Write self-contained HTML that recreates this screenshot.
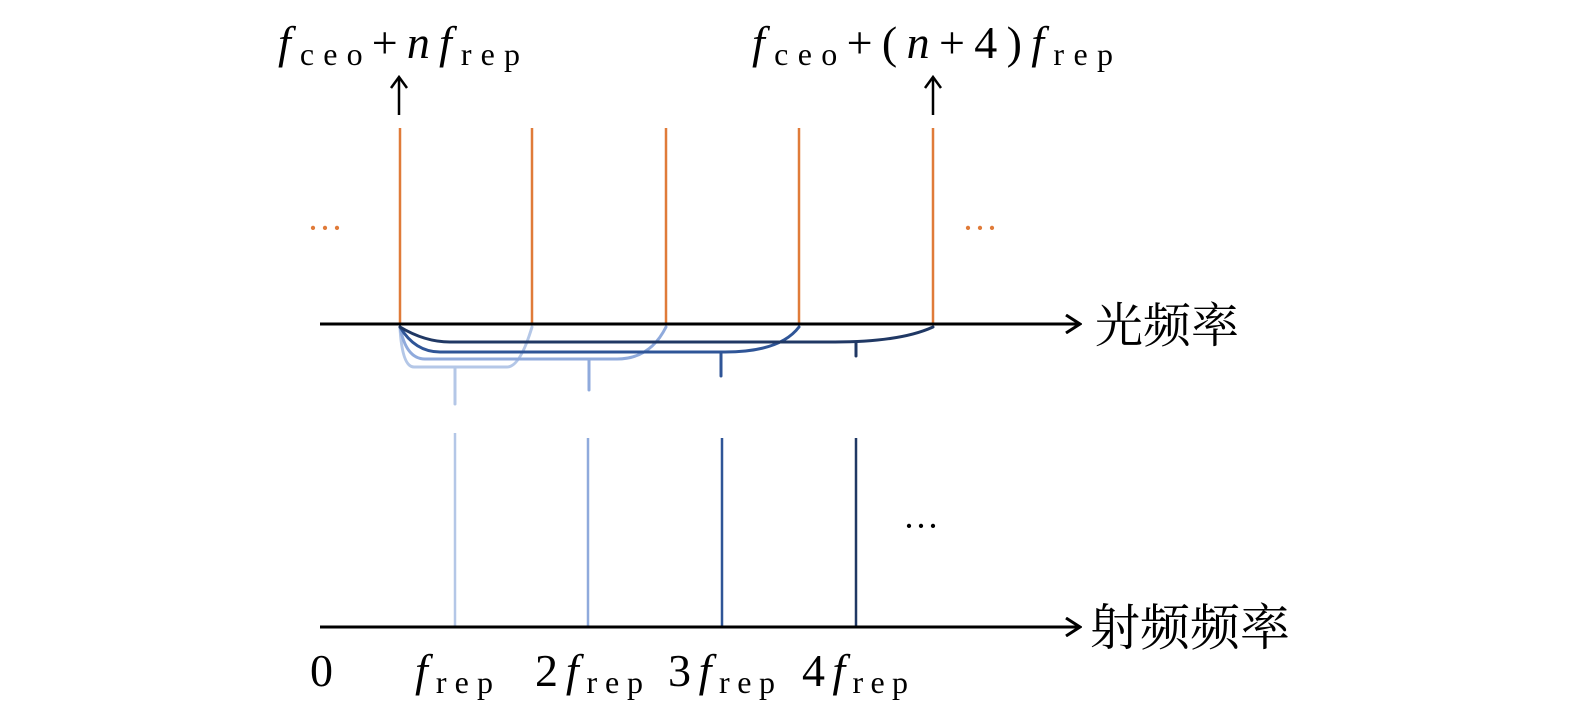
<!DOCTYPE html>
<html><head><meta charset="utf-8"><style>
html,body{margin:0;padding:0;background:#fff;}
svg{display:block}
.m{font-family:"Liberation Serif","Noto Serif CJK SC",serif;}
</style></head><body>
<svg width="1575" height="719" viewBox="0 0 1575 719" xmlns="http://www.w3.org/2000/svg" class="m">
<defs>
<marker id="ah" markerWidth="20" markerHeight="20" refX="18" refY="10" orient="auto" markerUnits="userSpaceOnUse">
<path d="M4,1 L18,10 L4,19" fill="none" stroke="#000" stroke-width="3"/>
</marker>
</defs>
<g stroke="#e07b39" stroke-width="2.5">
<line x1="400" y1="128" x2="400" y2="324"/>
<line x1="532" y1="128" x2="532" y2="324"/>
<line x1="666" y1="128" x2="666" y2="324"/>
<line x1="799" y1="128" x2="799" y2="324"/>
<line x1="933" y1="128" x2="933" y2="324"/>
</g>
<g fill="#e07b39" font-size="36"><text x="307" y="240">···</text><text x="962" y="240">···</text></g>
<g stroke="#000" stroke-width="2.5" fill="none">
<line x1="399" y1="115" x2="399" y2="78"/><path d="M391,88 L399,77 L407,88"/>
<line x1="933" y1="115" x2="933" y2="78"/><path d="M925,88 L933,77 L941,88"/>
</g>
<g fill="none" stroke-width="3" stroke-linecap="round">
<path d="M400,327 Q402,367 414,367 L507,367 Q520,367 532,327" stroke="#b4c7e7"/>
<line x1="455" y1="367" x2="455" y2="404" stroke="#b4c7e7"/>
<path d="M400,327 Q406,359 425,359 L617,359 Q650,359 666,327" stroke="#8faadc"/>
<line x1="589" y1="359" x2="589" y2="390" stroke="#8faadc"/>
<path d="M400,327 Q415,352 440,352 L725,352 Q780,352 799,327" stroke="#2f5597"/>
<line x1="721" y1="352" x2="721" y2="376" stroke="#2f5597"/>
<path d="M400,327 Q425,342 450,342 L835,342 Q900,342 933,327" stroke="#203864"/>
<line x1="856" y1="342" x2="856" y2="356" stroke="#203864"/>
</g>
<g stroke-width="2.5">
<line x1="455" y1="433" x2="455" y2="627" stroke="#b4c7e7"/>
<line x1="588" y1="438" x2="588" y2="627" stroke="#8faadc"/>
<line x1="722" y1="438" x2="722" y2="627" stroke="#2f5597"/>
<line x1="856" y1="438" x2="856" y2="627" stroke="#203864"/>
</g>
<text x="903" y="538" font-size="36">···</text>
<line x1="320" y1="324" x2="1080" y2="324" stroke="#000" stroke-width="3" marker-end="url(#ah)"/>
<line x1="320" y1="627" x2="1080" y2="627" stroke="#000" stroke-width="3" marker-end="url(#ah)"/>
<text x="1095" y="342" font-size="48">光频率</text>
<text x="1090" y="645" font-size="50">射频频率</text>
<text x="278" y="58" font-size="46" textLength="242" lengthAdjust="spacing"><tspan font-style="italic">f</tspan><tspan font-size="32" dy="7">ceo</tspan><tspan dy="-7">+</tspan><tspan font-style="italic">n</tspan><tspan font-style="italic">f</tspan><tspan font-size="32" dy="7">rep</tspan></text>
<text x="752" y="58" font-size="46" textLength="361" lengthAdjust="spacing"><tspan font-style="italic">f</tspan><tspan font-size="32" dy="7">ceo</tspan><tspan dy="-7">+(</tspan><tspan font-style="italic">n</tspan><tspan>+4)</tspan><tspan font-style="italic">f</tspan><tspan font-size="32" dy="7">rep</tspan></text>
<text x="310" y="686" font-size="46">0</text>
<text x="415" y="686" font-size="46" textLength="78" lengthAdjust="spacing"><tspan font-style="italic">f</tspan><tspan font-size="32" dy="7">rep</tspan></text>
<text x="535" y="686" font-size="46" textLength="108" lengthAdjust="spacing">2<tspan font-style="italic">f</tspan><tspan font-size="32" dy="7">rep</tspan></text>
<text x="668" y="686" font-size="46" textLength="107" lengthAdjust="spacing">3<tspan font-style="italic">f</tspan><tspan font-size="32" dy="7">rep</tspan></text>
<text x="802" y="686" font-size="46" textLength="106" lengthAdjust="spacing">4<tspan font-style="italic">f</tspan><tspan font-size="32" dy="7">rep</tspan></text>
</svg>
</body></html>
